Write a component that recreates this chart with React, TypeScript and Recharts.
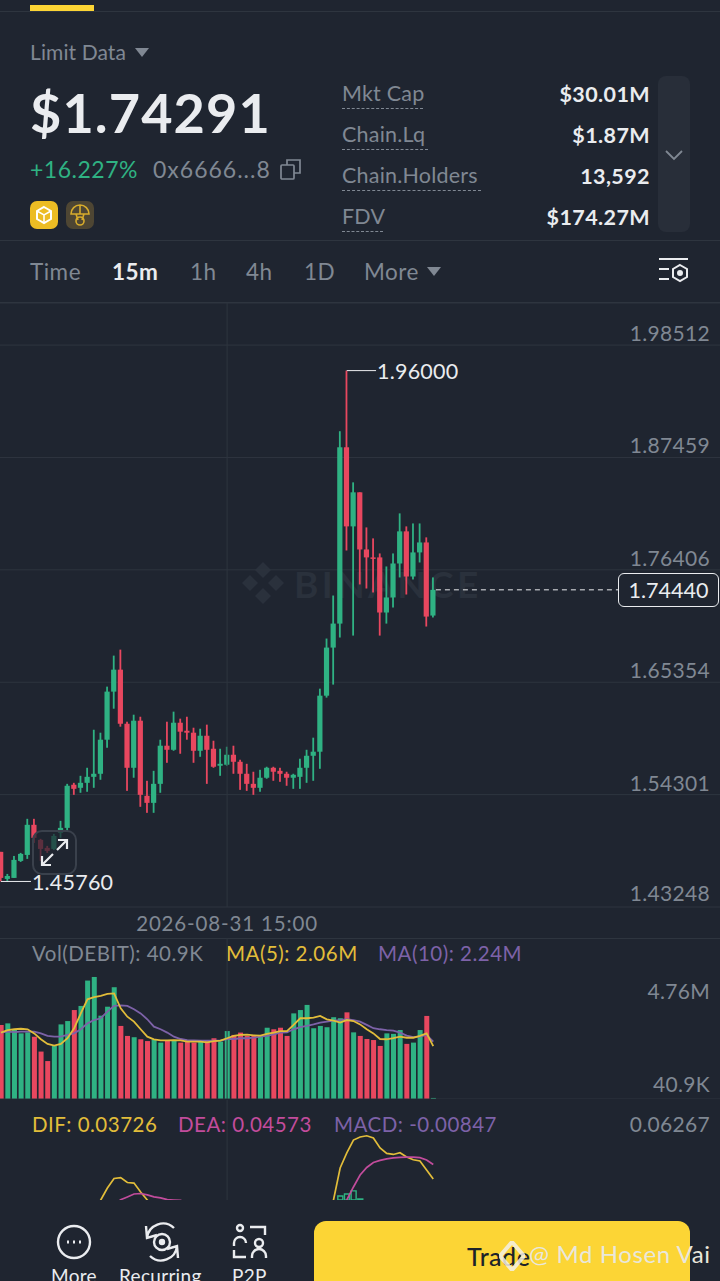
import React from "react";
import { Bar, CartesianGrid, Cell, ComposedChart, Line, ReferenceDot, ReferenceLine, XAxis, YAxis } from "recharts";

const opens = [
  1.4867, 1.4601, 1.4611, 1.4778, 1.4837, 1.5133, 1.4985, 1.4906, 1.4896, 1.5054,
  1.5103, 1.5527, 1.5497, 1.5546, 1.5605, 1.5635, 1.597, 1.6443, 1.6659, 1.6127,
  1.5694, 1.6157, 1.5418, 1.5349, 1.5536, 1.5911, 1.5871, 1.6137, 1.6058, 1.6039,
  1.5861, 1.6009, 1.5881, 1.5714, 1.5724, 1.5822, 1.5753, 1.5635, 1.5536, 1.5497,
  1.5596, 1.5694, 1.5664, 1.5635, 1.5596, 1.5605, 1.5694, 1.5812, 1.5852, 1.6403,
  1.6876, 1.7112, 1.8846, 1.8068, 1.8403, 1.7841, 1.7763, 1.7763, 1.7221, 1.7369,
  1.7703, 1.8019, 1.7575, 1.7812, 1.791, 1.7191,
];
const closes = [
  1.4611, 1.463, 1.4788, 1.4847, 1.5133, 1.5005, 1.4896, 1.4876, 1.5024, 1.5103,
  1.5517, 1.5487, 1.5546, 1.5605, 1.5635, 1.597, 1.6443, 1.6659, 1.6127, 1.5694,
  1.6157, 1.5428, 1.5349, 1.5536, 1.5911, 1.5871, 1.6137, 1.6049, 1.6039, 1.5861,
  1.6009, 1.5871, 1.5704, 1.5733, 1.5822, 1.5753, 1.5635, 1.5536, 1.5497, 1.5596,
  1.5694, 1.5655, 1.5635, 1.5596, 1.5625, 1.5694, 1.5812, 1.5852, 1.6403, 1.6876,
  1.7112, 1.8846, 1.8068, 1.8403, 1.7841, 1.7763, 1.7753, 1.7221, 1.7369, 1.7703,
  1.8019, 1.7575, 1.7812, 1.791, 1.7181, 1.7444,
];
const lows = [
  1.4576, 1.4581, 1.4611, 1.4768, 1.4798, 1.4955, 1.4778, 1.4857, 1.4886, 1.5005,
  1.5064, 1.5428, 1.5448, 1.5458, 1.5497, 1.5576, 1.5891, 1.6275, 1.6098, 1.5467,
  1.5596, 1.531, 1.5251, 1.5251, 1.5448, 1.5743, 1.5861, 1.5832, 1.597, 1.5743,
  1.5802, 1.5536, 1.5694, 1.5615, 1.5714, 1.5635, 1.5477, 1.5467, 1.5428, 1.5458,
  1.5586, 1.5566, 1.5556, 1.5517, 1.5487, 1.5487, 1.5546, 1.5566, 1.5684, 1.6384,
  1.6512, 1.6975, 1.7831, 1.6994, 1.7497, 1.7457, 1.7418, 1.6994, 1.7112, 1.727,
  1.7566, 1.7398, 1.7546, 1.7713, 1.7083, 1.7172,
];
const highs = [
  1.4867, 1.465, 1.4827, 1.4857, 1.5192, 1.5192, 1.4995, 1.4926, 1.5044, 1.5172,
  1.5536, 1.5546, 1.5615, 1.5694, 1.6068, 1.6039, 1.6492, 1.6797, 1.6856, 1.6147,
  1.6216, 1.6196, 1.5566, 1.5664, 1.597, 1.6147, 1.6246, 1.6177, 1.6196, 1.6088,
  1.6078, 1.6118, 1.596, 1.5881, 1.5901, 1.5911, 1.5773, 1.5733, 1.5655, 1.5674,
  1.5704, 1.5704, 1.5694, 1.5655, 1.5635, 1.5783, 1.5871, 1.599, 1.6472, 1.6965,
  1.7388, 1.9004, 1.96, 1.8501, 1.8403, 1.8058, 1.795, 1.7802, 1.7674, 1.7802,
  1.8196, 1.8068, 1.8097, 1.8097, 1.796, 1.7566,
];
// volume in millions
const volumes = [
  2.89, 2.95, 2.72, 2.56, 2.6, 2.43, 1.85, 1.48, 2.07, 2.91,
  3.04, 3.47, 3.63, 4.62, 4.76, 3.25, 3.6, 4.36, 2.85, 2.46,
  2.41, 2.33, 2.26, 2.33, 2.2, 2.3, 2.3, 2.2, 2.28, 2.2,
  2.28, 2.28, 2.37, 2.24, 2.65, 2.5, 2.59, 2.46, 2.46, 2.47,
  2.78, 2.72, 2.78, 2.46, 3.34, 3.47, 3.67, 2.76, 2.85, 2.8,
  3.19, 3.15, 3.38, 2.6, 2.46, 2.34, 2.3, 2.07, 2.56, 2.54,
  2.69, 2.15, 2.2, 2.69, 3.24, 0.0409,
];
const ma5 = [
  2.59, 2.69, 2.72, 2.74, 2.72, 2.56, 2.33, 2.15, 2.08, 2.15,
  2.37, 2.76, 3.34, 3.89, 3.97, 4.02, 4.1, 4.12, 3.54, 3.21,
  3.02, 2.72, 2.43, 2.33, 2.29, 2.29, 2.3, 2.29, 2.24, 2.24,
  2.24, 2.21, 2.26, 2.28, 2.37, 2.46, 2.5, 2.51, 2.48, 2.47,
  2.54, 2.59, 2.65, 2.65, 2.89, 3.15, 3.15, 3.17, 3.24, 3.11,
  3.06, 2.98, 3.08, 3.04, 2.91, 2.72, 2.56, 2.34, 2.33, 2.37,
  2.43, 2.39, 2.39, 2.46, 2.56, 2.06,
];
const ma10 = [
  2.59, 2.63, 2.61, 2.63, 2.63, 2.63, 2.56, 2.46, 2.43, 2.43,
  2.5, 2.56, 2.72, 2.95, 3.08, 3.15, 3.41, 3.63, 3.65, 3.63,
  3.5, 3.34, 3.11, 2.82, 2.72, 2.59, 2.43, 2.34, 2.3, 2.29,
  2.28, 2.28, 2.28, 2.28, 2.34, 2.34, 2.37, 2.37, 2.39, 2.43,
  2.46, 2.52, 2.59, 2.6, 2.72, 2.8, 2.85, 2.91, 2.98, 3.02,
  3.06, 3.08, 3.11, 3.08, 3.02, 2.89, 2.76, 2.72, 2.69, 2.67,
  2.59, 2.47, 2.41, 2.43, 2.5, 2.24,
];
const dif = [
  null, null, null, null, null, null, null, null, null, null,
  null, null, null, null, 0.0168, 0.025, 0.032, 0.0376, 0.0381, 0.0352,
  0.0349, 0.0297, 0.025, 0.0203, null, null, null, null, null, null,
  null, null, null, null, null, null, null, null, null, null,
  null, null, null, null, null, null, null, null, null, 0.0017,
  0.025, 0.0437, 0.0525, 0.06, 0.0618, 0.0625, 0.0612, 0.0554, 0.0522, 0.0516,
  0.0526, 0.0501, 0.0485, 0.0478, 0.0425, 0.03726,
];
const dea = [
  null, null, null, null, null, null, null, null, null, null,
  null, null, null, null, null, null, null, 0.0221, 0.0252, 0.0268,
  0.0285, 0.0288, 0.028, 0.0268, 0.0262, 0.0252, 0.025, 0.0248, 0.0233, null,
  null, null, null, null, null, null, null, null, null, null,
  null, null, null, null, null, null, null, null, null, null,
  null, 0.018, 0.025, 0.0326, 0.0396, 0.044, 0.0469, 0.0481, 0.049, 0.0496,
  0.0499, 0.05, 0.05, 0.0497, 0.0484, 0.04573,
];
// histogram tops that still show above the bottom bar
const macd = [
  null, null, null, null, null, null, null, null, null, null,
  null, null, null, null, null, null, null, null, null, null,
  null, null, null, null, null, null, null, null, null, null,
  null, null, null, null, null, null, null, null, null, null,
  null, null, null, null, null, null, null, null, null, null,
  null, 0.0273, 0.0285, 0.0303, 0.0256, null, null, null, null, null,
  null, null, null, null, null, null,
];
const priceTicks = [1.98512, 1.87459, 1.76406, 1.65354, 1.54301, 1.43248];
const volTicks = [4.76, 0.0409];
const timeTick = 34;
const timeLabel = "2026-08-31 15:00";
const statRows = [
  ["Mkt Cap", "$30.01M"],
  ["Chain.Lq", "$1.87M"],
  ["Chain.Holders", "13,592"],
  ["FDV", "$174.27M"],
];
const intervals = [
  ["Time", 30],
  ["15m", 112],
  ["1h", 190],
  ["4h", 246],
  ["1D", 304],
  ["More", 364],
];

const rows = opens.map((open, i) => ({
  i,
  open,
  close: closes[i],
  low: lows[i],
  high: highs[i],
  range: [lows[i], highs[i]],
  vol: volumes[i],
  ma5: ma5[i],
  ma10: ma10[i],
  dif: dif[i],
  dea: dea[i],
  macd: macd[i],
}));

const BG = "#1f2530";
const GRID = "#2e353f";
const GREEN = "#2fb283";
const RED = "#e8475f";
const GRAY = "#808893";
const XDOMAIN = [-0.15, 108.12];
const FONT = "Lato, sans-serif";

function Candle(props: any) {
  const { x, y, width, height, payload } = props;
  const cx = x + width / 2;
  const color = payload.close >= payload.open ? GREEN : RED;
  const perUnit = height / (payload.high - payload.low || 1);
  const bodyTop = y + (payload.high - Math.max(payload.open, payload.close)) * perUnit;
  const bodyH = Math.abs(payload.open - payload.close) * perUnit;
  return (
    <g>
      <rect x={cx - 0.9} y={y} width={1.8} height={height} fill={color} />
      <rect x={cx - 2.6} y={bodyTop} width={5.2} height={Math.max(bodyH, 1.5)} fill={color} />
    </g>
  );
}

function Txt({ x, y, size = 20, color = GRAY, weight = 400, right, children, spacing = 0.5 }: any) {
  const pos: any = right !== undefined ? { right: 720 - right } : { left: x };
  return (
    <div
      style={{
        position: "absolute",
        ...pos,
        top: y - 20,
        height: 40,
        lineHeight: "40px",
        fontSize: size,
        color,
        fontWeight: weight,
        letterSpacing: spacing,
        whiteSpace: "nowrap",
      }}
    >
      {children}
    </div>
  );
}

function PriceTick({ y, payload }: any) {
  // the bottom label sits a little closer to its line
  const lift = payload.value < 1.44 ? 13 : 11;
  return (
    <text x={710} y={y - lift} dy={7} textAnchor="end" fontSize={21} letterSpacing={0.3} fill={GRAY} fontFamily={FONT}>
      {payload.value.toFixed(5)}
    </text>
  );
}

function VolTick({ y, payload }: any) {
  const top = payload.value > 1;
  return (
    <text x={710} y={top ? y + 15 : y - 13} dy={7} textAnchor="end" fontSize={21} letterSpacing={0.3} fill={GRAY} fontFamily={FONT}>
      {top ? `${payload.value}M` : `${(payload.value * 1000).toFixed(1)}K`}
    </text>
  );
}

function TimeTick({ x, y }: any) {
  return (
    <text x={x} y={y + 9} dy={7} textAnchor="middle" fontSize={20.5} letterSpacing={0.85} fill={GRAY} fontFamily={FONT}>
      {timeLabel}
    </text>
  );
}

function Tri({ x, y, w = 14, color = GRAY }: any) {
  return (
    <svg style={{ position: "absolute", left: x, top: y }} width={w} height={9}>
      <path d={`M0 0H${w}L${w / 2} 9Z`} fill={color} />
    </svg>
  );
}

function Header() {
  return (
    <>
      <div style={{ position: "absolute", left: 30, top: 5, width: 64, height: 6, background: "#fcd535" }} />
      <div style={{ position: "absolute", left: 0, top: 11, width: 720, height: 1, background: GRID }} />
      <Txt x={30} y={51.5} size={21} spacing={0.1}>Limit Data</Txt>
      <Tri x={135} y={48} />
      <Txt x={30} y={113} size={54} weight={700} color="#eaecef" spacing={1.1}>$1.74291</Txt>
      <Txt x={30} y={169} size={23} color={GREEN}>+16.227%</Txt>
      <Txt x={153} y={169} size={23} spacing={1}>0x6666...8</Txt>
      <svg style={{ position: "absolute", left: 280, top: 159 }} width={21} height={21} fill="none" stroke={GRAY} strokeWidth={1.7}>
        <rect x={1} y={6} width={13} height={14} rx={1} />
        <path d="M7 6V1H20V14H14" />
      </svg>
      <svg style={{ position: "absolute", left: 30, top: 201 }} width={64} height={28}>
        <rect width={28} height={28} rx={7} fill="#ecbc24" />
        <path d="M14 6l7 4v8l-7 4-7-4v-8z" fill="none" stroke="#fff" strokeWidth={2} />
        <path d="M7 10l7 4 7-4M14 14v8" fill="none" stroke="#fff" strokeWidth={1.5} />
        <rect x={36} width={28} height={28} rx={7} fill="#4e4633" />
        <path d="M41 13a9 9 0 0 1 18 0zM50 4v9M46 13l2 6M54 13l-2 6" fill="none" stroke="#d8ac2c" strokeWidth={1.6} />
        <circle cx={50} cy={20} r={4} fill="none" stroke="#d8ac2c" strokeWidth={1.6} />
      </svg>
      {statRows.map(([label, value], r) => (
        <React.Fragment key={label}>
          <Txt x={342} y={92.5 + r * 41} size={21.5} spacing={0.2}>{label}</Txt>
          <Txt right={650} y={94 + r * 41} size={21.5} weight={700} color="#eaecef" spacing={0.4}>{value}</Txt>
        </React.Fragment>
      ))}
      {[81, 86, 139, 41].map((w, r) => (
        <div key={r} style={{ position: "absolute", left: 342, top: 108 + r * 41, width: w, borderTop: `1px dashed ${GRAY}` }} />
      ))}
      <div style={{ position: "absolute", left: 658, top: 76, width: 32, height: 156, borderRadius: 8, background: "#282e39" }} />
      <svg style={{ position: "absolute", left: 665, top: 150 }} width={18} height={11} fill="none" stroke={GRAY} strokeWidth={1.8}>
        <path d="M1 1l8 8 8-8" />
      </svg>
      <div style={{ position: "absolute", left: 0, top: 240, width: 720, height: 1, background: GRID }} />
      {intervals.map(([label, x]) => (
        <Txt key={label} x={x} y={272} size={22.5} weight={label === "15m" ? 700 : 400} color={label === "15m" ? "#eaecef" : GRAY}>
          {label}
        </Txt>
      ))}
      <Tri x={427} y={267} />
      <svg style={{ position: "absolute", left: 659, top: 257 }} width={30} height={27} fill="none" stroke="#eaecef" strokeWidth={2}>
        <path d="M0 2H29M0 12H10M0 22H10" />
        <path d="M21 8l7 4v8l-7 4-7-4v-8z" />
        <circle cx={21} cy={16} r={2} fill="#eaecef" />
      </svg>
      <div style={{ position: "absolute", left: 0, top: 302, width: 720, height: 1, background: GRID }} />
    </>
  );
}

function Footer() {
  return (
    <div style={{ position: "absolute", left: 0, top: 1200, width: 720, height: 81, background: BG, overflow: "hidden" }}>
      <svg style={{ position: "absolute", left: 0, top: 0 }} width={300} height={70} fill="none" stroke="#eaecef" strokeWidth={2.4}>
        <circle cx={74} cy={42} r={16} />
        <path d="M67 42h2M73 42h2M79 42h2" strokeWidth={3} />
        <circle cx={162} cy={42} r={8} />
        <path d="M147 38a16 16 0 0 1 27-10M177 46a16 16 0 0 1-27 10M146 26l1 12 10-3M178 58l-1-12-10 3" />
        <circle cx={162} cy={42} r={2} fill="#eaecef" />
        <circle cx={240} cy={28} r={3} />
        <path d="M250 27H265V35M234 46v-3a6 6 0 0 1 12 0M234 50v7H246M252 58v-2a7 7 0 0 1 14 0v2" />
        <circle cx={259} cy={43} r={4} />
      </svg>
      <Txt x={51} y={76} size={19} color="#eaecef" spacing={0.3}>More</Txt>
      <Txt x={119} y={76} size={19} color="#eaecef" spacing={0.3}>Recurring</Txt>
      <Txt x={232} y={76} size={19} color="#eaecef" spacing={0.3}>P2P</Txt>
      <div style={{ position: "absolute", left: 314, top: 21, width: 376, height: 80, borderRadius: 12, background: "#fcd535" }} />
      <Txt x={467} y={56} size={25} weight={500} color="#1e2329">Trade</Txt>
      <svg style={{ position: "absolute", left: 499, top: 41 }} width={26} height={30}>
        <path d="M13 1l12 14-12 14L1 15z" fill="none" stroke="#f3f0e6" strokeWidth={4} opacity={0.85} />
      </svg>
      <Txt x={529} y={54} size={24} color="#e9e7dc" spacing={0.6}>@ Md Hosen Vai</Txt>
    </div>
  );
}

function PriceChart() {
  const extremeLabel = { position: "right", fill: "#eaecef", fontSize: 21.5, letterSpacing: 0.2, fontFamily: FONT, offset: 1, dy: 0.5 };
  return (
    <div style={{ position: "absolute", left: 0, top: 303 }}>
      <ComposedChart width={720} height={632} data={rows} margin={{ top: 0, right: 0, bottom: 0, left: 0 }}>
        <CartesianGrid stroke={GRID} vertical={false} />
        <XAxis
          type="number"
          dataKey="i"
          domain={XDOMAIN}
          allowDataOverflow
          ticks={[timeTick]}
          height={28}
          tick={<TimeTick />}
          tickLine={false}
          axisLine={false}
        />
        <YAxis
          orientation="right"
          mirror
          width={60}
          interval={0}
          domain={[1.43248, 2.02649]}
          allowDataOverflow
          ticks={priceTicks}
          tick={<PriceTick />}
          tickLine={false}
          axisLine={false}
        />
        <ReferenceLine x={timeTick} stroke={GRID} />
        <Bar dataKey="range" barSize={6} isAnimationActive={false} shape={<Candle />} />
        <ReferenceLine segment={[{ x: 52, y: 1.96 }, { x: 56.4, y: 1.96 }]} stroke="#eaecef" ifOverflow="visible" />
        <ReferenceDot x={56.4} y={1.96} r={0} ifOverflow="visible" label={{ value: "1.96000", ...extremeLabel }} />
        <ReferenceLine segment={[{ x: 0, y: 1.4576 }, { x: 4.5, y: 1.4576 }]} stroke="#eaecef" ifOverflow="visible" />
        <ReferenceDot x={4.5} y={1.4576} r={0} ifOverflow="visible" label={{ value: "1.45760", ...extremeLabel }} />
        <ReferenceLine segment={[{ x: 65.4, y: 1.7444 }, { x: 92.8, y: 1.7444 }]} stroke="#eaecef" strokeDasharray="5 4" ifOverflow="visible" />
      </ComposedChart>
    </div>
  );
}

function VolumeChart() {
  return (
    <div style={{ position: "absolute", left: 0, top: 938 }}>
      <ComposedChart width={720} height={161} data={rows} margin={{ top: 0, right: 0, bottom: 0, left: 0 }}>
        <XAxis type="number" dataKey="i" domain={XDOMAIN} allowDataOverflow hide />
        <YAxis
          orientation="right"
          mirror
          width={60}
          interval={0}
          domain={[0, 6.28]}
          ticks={volTicks}
          tick={<VolTick />}
          tickLine={false}
          axisLine={false}
        />
        <ReferenceLine x={timeTick} stroke={GRID} />
        <ReferenceLine y={0} stroke={GRID} />
        <Bar dataKey="vol" barSize={5} isAnimationActive={false}>
          {rows.map((r) => (
            <Cell key={r.i} fill={r.close >= r.open ? GREEN : RED} />
          ))}
        </Bar>
        <Line dataKey="ma10" stroke="#7d62a8" strokeWidth={1.8} dot={false} isAnimationActive={false} />
        <Line dataKey="ma5" stroke="#e2bd3a" strokeWidth={1.8} dot={false} isAnimationActive={false} />
      </ComposedChart>
    </div>
  );
}

function MacdChart() {
  return (
    <div style={{ position: "absolute", left: 0, top: 1100 }}>
      <ComposedChart width={720} height={100} data={rows} margin={{ top: 0, right: 0, bottom: 0, left: 0 }}>
        <XAxis type="number" dataKey="i" domain={XDOMAIN} allowDataOverflow hide />
        <YAxis hide domain={[0.025, 0.0834]} allowDataOverflow />
        <ReferenceLine x={timeTick} stroke={GRID} />
        <Bar dataKey="macd" barSize={5} fill="none" stroke={GREEN} strokeWidth={1.4} isAnimationActive={false} />
        <Line dataKey="dif" stroke="#e2bd3a" strokeWidth={1.7} dot={false} isAnimationActive={false} />
        <Line dataKey="dea" stroke="#c24c9c" strokeWidth={1.7} dot={false} isAnimationActive={false} />
      </ComposedChart>
    </div>
  );
}

export default function App() {
  return (
    <div style={{ position: "relative", width: 720, height: 1281, background: BG, overflow: "hidden", fontFamily: FONT }}>
      <style>{"body{margin:0;background:#1f2530}"}</style>
      <Header />
      <div style={{ position: "absolute", left: 240, top: 560, display: "flex", alignItems: "center", gap: 8, color: "#2a313c", fontSize: 37, fontWeight: 700, letterSpacing: 3.4 }}>
        <svg width={46} height={46}>
          <path d="M23 2l8 8-8 8-8-8zM10 15l8 8-8 8-8-8zM36 15l8 8-8 8-8-8zM23 28l8 8-8 8-8-8z" fill="#2a313c" />
        </svg>
        BINANCE
      </div>
      <PriceChart />
      <div style={{ position: "absolute", left: 618, top: 573, width: 101, height: 34, boxSizing: "border-box", border: "1px solid #eaecef", borderRadius: 6, background: BG, color: "#eaecef", fontSize: 21.5, lineHeight: "32px", textAlign: "center" }}>
        1.74440
      </div>
      <div style={{ position: "absolute", left: 32, top: 830, width: 45, height: 45, boxSizing: "border-box", border: "2px solid #3a414c", borderRadius: 10, background: "rgba(31,37,48,0.7)" }}>
        <svg width={41} height={41} fill="none" stroke="#eaecef" strokeWidth={2.2} style={{ display: "block" }}>
          <path d="M23 18L33 8M24 8H33V17M19 22L8 33M8 24V33H17" />
        </svg>
      </div>
      <div style={{ position: "absolute", left: 0, top: 938, width: 720, height: 1, background: GRID }} />
      <Txt x={32} y={953} size={20.5}>Vol(DEBIT): 40.9K</Txt>
      <Txt x={226} y={953} size={20.5} color="#e2bd3a">MA(5): 2.06M</Txt>
      <Txt x={378} y={953} size={20.5} color="#7d62a8">MA(10): 2.24M</Txt>
      <VolumeChart />
      <Txt x={32} y={1124} size={20.5} color="#e2bd3a">DIF: 0.03726</Txt>
      <Txt x={178} y={1124} size={20.5} color="#c24c9c">DEA: 0.04573</Txt>
      <Txt x={334} y={1124} size={20.5} color="#7d62a8">MACD: -0.00847</Txt>
      <Txt right={710} y={1124} size={21} spacing={0.3}>0.06267</Txt>
      <MacdChart />
      <Footer />
    </div>
  );
}
